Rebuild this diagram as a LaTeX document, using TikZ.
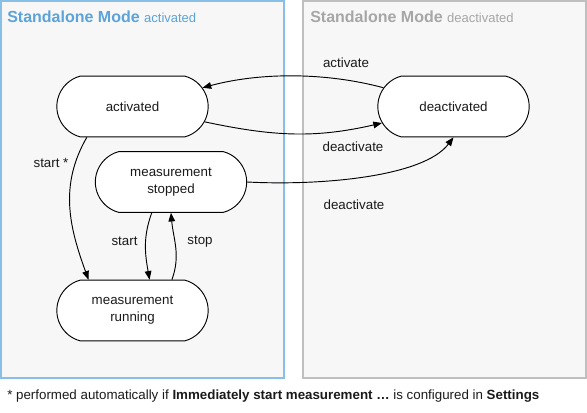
\documentclass[tikz,border=0pt]{standalone}
\usepackage{fontspec}
\setmainfont{Liberation Sans}
\usetikzlibrary{arrows.meta,positioning,shapes.misc}
\definecolor{modeblu}{HTML}{88BFE6}
\definecolor{titleblu}{HTML}{5BA3D9}
\definecolor{modegry}{HTML}{BFBFBF}
\definecolor{titlegry}{HTML}{A6A6A6}
\definecolor{bgc}{HTML}{F7F7F7}
\definecolor{txt}{HTML}{1A1A1A}
\tikzset{
  mode/.style={line width=1.5pt, fill=bgc},
  state/.style={rounded rectangle, rounded rectangle arc length=150, draw, line width=0.7pt, fill=white,
    minimum width=113.5pt, minimum height=45.5pt, inner sep=0pt, align=center,
    font=\fontsize{10}{12.75}\selectfont, text=txt},
  trans/.style={-{Triangle[length=6.5pt,width=5pt]}, line width=0.7pt},
  lbl/.style={font=\fontsize{10}{12}\selectfont, text=txt, inner sep=0pt},
  ttl/.style={anchor=base west, inner sep=0pt, font=\bfseries\fontsize{12}{14}\selectfont},
}
\newcommand{\sub}{\mdseries\fontsize{9.75}{12}\selectfont}

\begin{document}
\begin{tikzpicture}[x=0.75pt,y=0.75pt]
  \useasboundingbox (0,0) rectangle (587,412);
  % mode frames
  \draw[mode, draw=modeblu] (1,411) rectangle (284,34);
  \draw[mode, draw=modegry] (303,411) rectangle (586,34);
  \node[ttl, titleblu] (tact) at (7,390) {Standalone Mode \sub activated};
  \node[ttl, titlegry] (tdeact) at (310,390) {Standalone Mode \sub deactivated};
  % states
  \node[state] (act) at (132.5,305.5) {activated};
  \node[state] (deact) at (453.5,305.5) {deactivated};
  \node[state] (mstop) at (171,230) {measurement\\stopped};
  \node[state] (mrun) at (132.5,101.5) {measurement\\running};
  % transitions
  \draw[trans] (deact.165) to[out=165,in=15,looseness=0.85] (act.15);
  \draw[trans] (act.-12) to[out=-12,in=193] (deact.193);
  \draw[trans] (mstop.east) to[out=-3,in=233,out looseness=0.9,in looseness=0.6] (deact.south);
  \draw[trans] (act.214) to[out=240,in=110] (mrun.145);
  \draw[trans] (mstop.238) to[out=250,in=100] (mrun.61);
  \draw[trans] (mrun.38) to[out=70,in=275] (mstop.south);
  % labels
  \node[lbl] (lact) at (346,349) {activate};
  \node[lbl] (ldeact) at (353,265) {deactivate};
  \node[lbl] (ldeactb) at (354,207) {deactivate};
  \node[lbl] (lstartx) at (51,249) {start *};
  \node[lbl] (lstart) at (124.5,170.5) {start};
  \node[lbl] (lstop) at (200,170.5) {stop};
  % footnote
  \node[lbl, anchor=base west] (note) at (7,13)
    {* performed automatically if \textbf{Immediately start measurement …} is configured in \textbf{Settings}};
\end{tikzpicture}
\end{document}
